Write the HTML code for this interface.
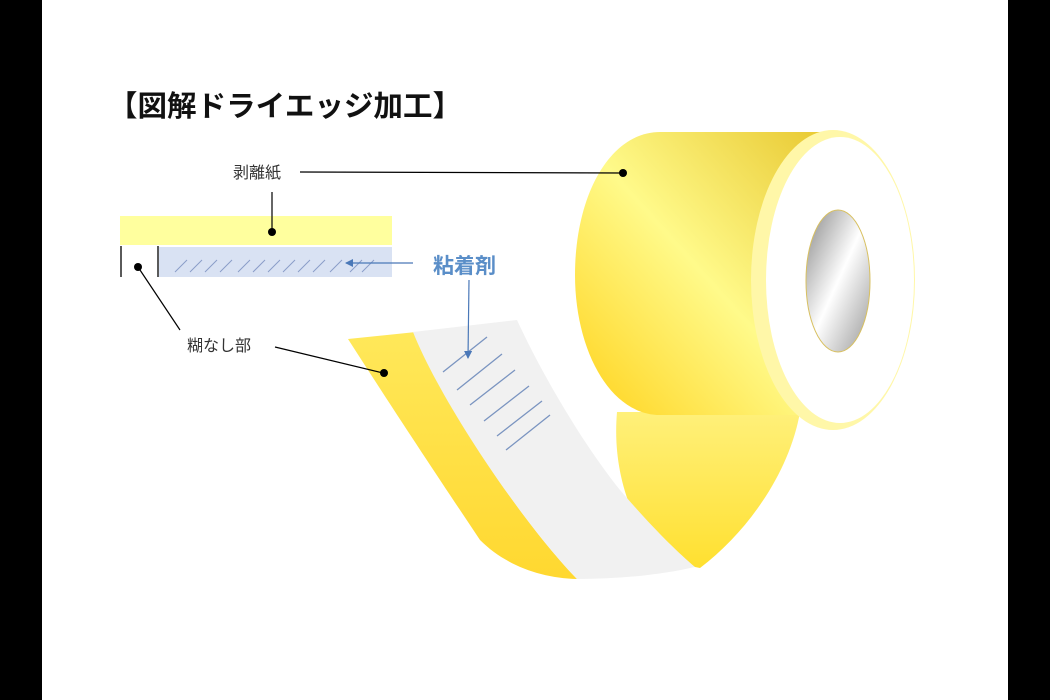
<!DOCTYPE html>
<html><head><meta charset="utf-8"><style>
html,body{margin:0;padding:0;background:#fff}
svg{display:block}
text{font-family:"Liberation Sans","Noto Sans CJK JP",sans-serif}
</style></head><body>
<svg width="1050" height="700" viewBox="0 0 1050 700" xmlns="http://www.w3.org/2000/svg">
<defs>
<linearGradient id="body" x1="0" y1="1" x2="1" y2="0">
<stop offset="0" stop-color="#ffd21a"/><stop offset="0.5" stop-color="#fffa8a"/><stop offset="1" stop-color="#e8c830"/>
</linearGradient>
<linearGradient id="hang" x1="0" y1="0" x2="0" y2="1">
<stop offset="0" stop-color="#fff07a"/><stop offset="1" stop-color="#ffe030"/>
</linearGradient>
<linearGradient id="strip" x1="0" y1="0" x2="0" y2="1">
<stop offset="0" stop-color="#ffe85a"/><stop offset="1" stop-color="#ffd830"/>
</linearGradient>
<linearGradient id="hole" x1="0" y1="0" x2="1" y2="1">
<stop offset="0" stop-color="#888"/><stop offset="0.5" stop-color="#fff"/><stop offset="1" stop-color="#999"/>
</linearGradient>
<marker id="ah" markerWidth="8" markerHeight="8" refX="7" refY="4" orient="auto" markerUnits="userSpaceOnUse"><path d="M0,0 L8,4 L0,8 z" fill="#4a78b8"/></marker>
</defs>
<rect x="0" y="0" width="42" height="700" fill="#000"/>
<rect x="1008" y="0" width="42" height="700" fill="#000"/>

<text x="108" y="116" font-size="29" font-weight="bold" textLength="354" lengthAdjust="spacingAndGlyphs" fill="#111">【図解ドライエッジ加工】</text>

<!-- hanging part behind -->
<path d="M617,412 L800,412 C790,470 750,530 700,568 L660,560 C630,520 612,470 617,412 z" fill="url(#hang)"/>
<!-- roll body -->
<path d="M660,132 L830,132 L830,415 L660,415 C610,415 575,350 575,275 C575,195 610,132 660,132 z" fill="url(#body)"/>
<ellipse cx="833" cy="280" rx="82" ry="150" fill="#fff7a8"/>
<ellipse cx="840" cy="280" rx="74" ry="143" fill="#fff"/>
<ellipse cx="838" cy="281" rx="32" ry="71" fill="url(#hole)" stroke="#d8c060" stroke-width="1"/>

<!-- strip -->
<path d="M348,339 L416,332 C440,400 520,520 577,579 C540,578 505,565 480,540 C440,480 400,420 348,339 z" fill="url(#strip)"/>
<path d="M413,332 L517,320 C540,370 580,440 620,490 C650,525 675,550 695,567 C660,575 620,579 577,579 C520,520 440,400 413,332 z" fill="#f1f1f1"/>
<g stroke="#7a94c0" stroke-width="1.3">
<line x1="443" y1="372" x2="487" y2="337"/>
<line x1="457" y1="390" x2="502" y2="354"/>
<line x1="470" y1="405" x2="515" y2="370"/>
<line x1="484" y1="421" x2="529" y2="386"/>
<line x1="497" y1="436" x2="542" y2="401"/>
<line x1="506" y1="450" x2="550" y2="415"/>
</g>

<!-- left diagram -->
<rect x="120" y="216" width="272" height="29" fill="#ffff9e"/>
<rect x="159" y="247" width="233" height="30" fill="#d9e2f3"/>
<g stroke="#8a9cc8" stroke-width="1">
<line x1="175" y1="272" x2="187" y2="260"/><line x1="190" y1="272" x2="202" y2="260"/>
<line x1="205" y1="272" x2="217" y2="260"/><line x1="220" y1="272" x2="232" y2="260"/>
<line x1="238" y1="272" x2="250" y2="260"/><line x1="253" y1="272" x2="265" y2="260"/>
<line x1="268" y1="272" x2="280" y2="260"/><line x1="283" y1="272" x2="295" y2="260"/>
<line x1="298" y1="272" x2="310" y2="260"/><line x1="313" y1="272" x2="325" y2="260"/>
<line x1="330" y1="272" x2="342" y2="260"/><line x1="350" y1="272" x2="362" y2="260"/>
<line x1="362" y1="272" x2="374" y2="260"/>
</g>
<line x1="121" y1="246" x2="121" y2="277" stroke="#000" stroke-width="1.3"/>
<line x1="158" y1="246" x2="158" y2="277" stroke="#000" stroke-width="1.3"/>

<g stroke="#000" stroke-width="1.2">
<line x1="272" y1="192" x2="272" y2="232"/>
<line x1="300" y1="172" x2="622" y2="173"/>
<line x1="138" y1="267" x2="180" y2="330"/>
<line x1="275" y1="347" x2="383" y2="373"/>
</g>
<g fill="#000">
<circle cx="272" cy="232" r="4"/><circle cx="623" cy="173" r="4"/>
<circle cx="138" cy="267" r="4"/><circle cx="384" cy="373" r="4"/>
</g>
<text x="233" y="178" font-size="16" fill="#333">剥離紙</text>
<text x="187" y="351" font-size="16" fill="#333">糊なし部</text>
<text x="433" y="273" font-size="21" font-weight="bold" fill="#5a8ec8">粘着剤</text>
<line x1="413" y1="263" x2="346" y2="263" stroke="#4a78b8" stroke-width="1.2" marker-end="url(#ah)"/>
<line x1="469" y1="280" x2="468" y2="358" stroke="#4a78b8" stroke-width="1.2" marker-end="url(#ah)"/>
</svg>
</body></html>
